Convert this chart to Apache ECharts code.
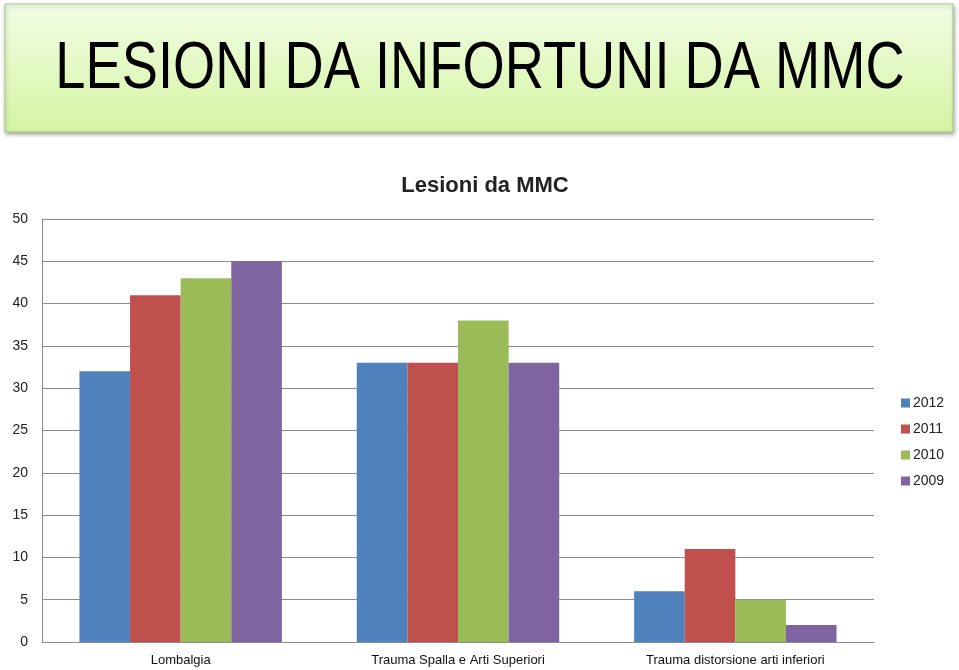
<!DOCTYPE html>
<html>
<head>
<meta charset="utf-8">
<script src="https://cdn.jsdelivr.net/npm/echarts@6/dist/echarts.min.js"></script>
<style>
html,body{margin:0;padding:0;background:#fff;}
#chart{width:959px;height:670px;}
</style>
</head>
<body>
<div id="chart"></div>
<script>
const categories = ['Lombalgia', 'Trauma Spalla e Arti Superiori', 'Trauma distorsione arti inferiori'];
const seriesNames = ['2012', '2011', '2010', '2009'];
const values2012 = [32, 33, 6];
const values2011 = [41, 33, 11];
const values2010 = [43, 38, 5];
const values2009 = [45, 33, 2];
const colors = ['#4f81bd', '#c0504d', '#9bbb59', '#8064a2'];
const yTicks = [0, 5, 10, 15, 20, 25, 30, 35, 40, 45, 50];

const allValues = [values2012, values2011, values2010, values2009];
const font = '"Liberation Sans", sans-serif';

const chart = echarts.init(document.getElementById('chart'), null, {renderer: 'canvas'});
chart.setOption({
  backgroundColor: '#ffffff',
  animation: false,
  title: {
    text: 'Lesioni da MMC',
    left: 480, top: 170, textAlign: 'center',
    textStyle: {fontFamily: font, fontSize: 22, fontWeight: 'bold', color: '#222'}
  },
  graphic: [
    {
      type: 'rect',
      shape: {x: 5, y: 4, width: 948, height: 128},
      style: {
        fill: new echarts.graphic.LinearGradient(0, 0, 0, 1, [
          {offset: 0, color: '#f3fde6'},
          {offset: 1, color: '#d4f5a2'}
        ]),
        stroke: '#a8c98a', lineWidth: 1,
        shadowBlur: 4, shadowOffsetX: 1, shadowOffsetY: 2, shadowColor: 'rgba(0,0,0,0.35)'
      }
    },
    {
      type: 'text',
      x: 480, y: 70,
      scaleX: 0.81, scaleY: 1,
      style: {
        text: 'LESIONI DA INFORTUNI DA MMC',
        fontFamily: font, fontSize: 67, fill: '#000',
        textAlign: 'center', textVerticalAlign: 'middle'
      }
    }
  ],
  legend: {
    orient: 'vertical',
    left: 896, top: 391,
    itemWidth: 9, itemHeight: 9, itemGap: 12,
    icon: 'rect',
    textStyle: {fontFamily: font, fontSize: 14, color: '#222', padding: [0, 0, 0, -2]},
    data: seriesNames
  },
  grid: {left: 42, right: 85, top: 219, bottom: 28, containLabel: false},
  xAxis: {
    type: 'category',
    data: categories,
    axisLine: {show: true, lineStyle: {color: '#8c8c8c', width: 1}},
    axisTick: {show: false},
    axisLabel: {fontFamily: font, fontSize: 13, color: '#111', margin: 12, interval: 0}
  },
  yAxis: {
    type: 'value',
    min: 0, max: 50, interval: 5,
    axisLine: {show: true, lineStyle: {color: '#8c8c8c', width: 1}},
    axisTick: {show: false},
    axisLabel: {fontFamily: font, fontSize: 14, color: '#222', margin: 14},
    splitLine: {show: true, lineStyle: {color: '#8c8c8c', width: 1}}
  },
  series: seriesNames.map((name, i) => ({
    name: name,
    type: 'bar',
    data: allValues[i],
    barGap: '0%',
    barCategoryGap: '27%',
    itemStyle: {color: colors[i]}
  }))
});
</script>
</body>
</html>
